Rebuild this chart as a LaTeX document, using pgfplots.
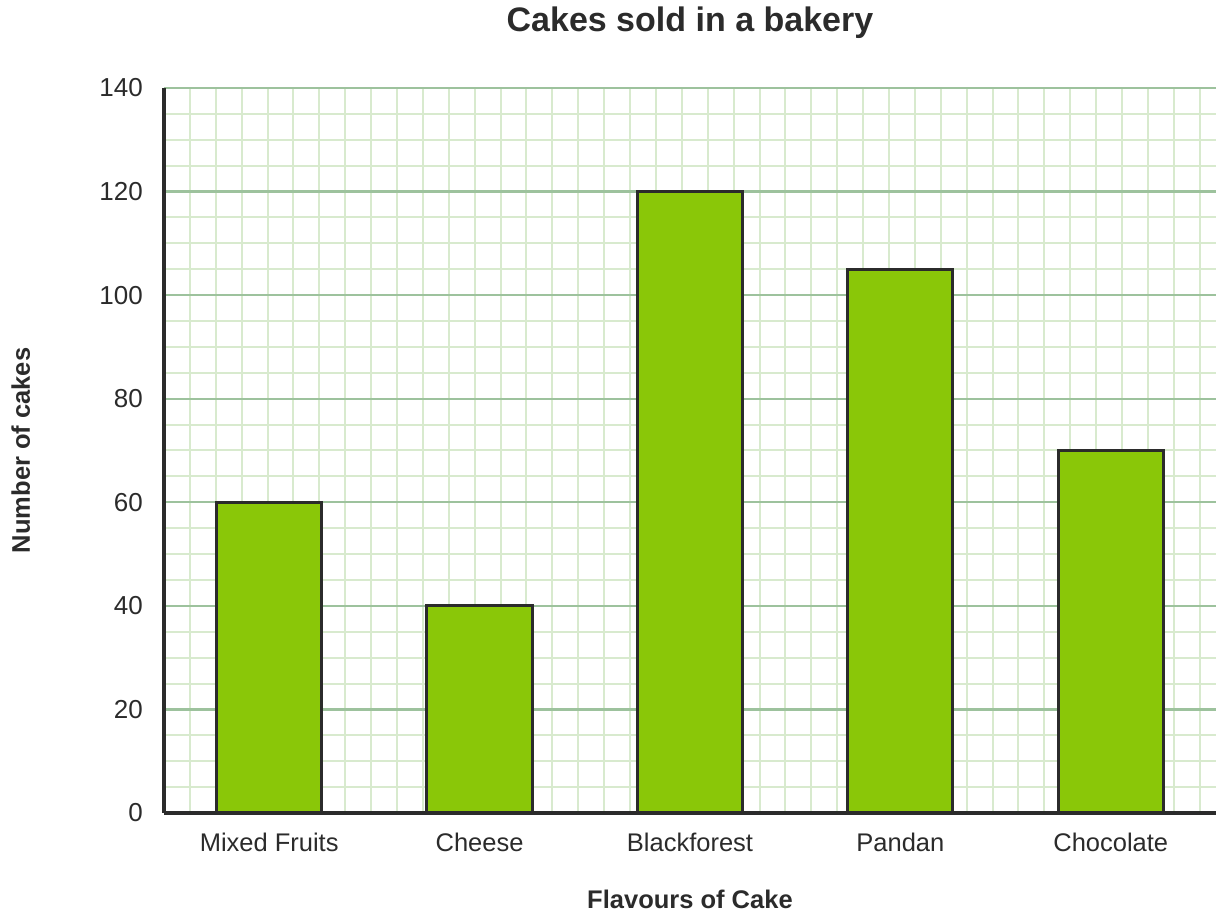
\documentclass[border=0pt]{standalone}
\usepackage{pgfplots}
\pgfplotsset{compat=1.18}
\usepackage{fontspec}
\setmainfont{Liberation Sans}
\definecolor{barfill}{HTML}{8AC708}
\definecolor{edge}{HTML}{2B2B2B}
\definecolor{majgrid}{HTML}{9DC29D}
\definecolor{mingrid}{HTML}{D8EACE}
\definecolor{txt}{HTML}{2B2B2B}
\begin{document}
\begin{tikzpicture}
\useasboundingbox (0,0) rectangle (1224pt,917pt);
\begin{axis}[
  at={(164pt,104pt)}, anchor=south west,
  scale only axis, width=1052pt, height=725pt,
  xmin=-0.5, xmax=4.5, ymin=0, ymax=140,
  axis x line=bottom, axis y line=left,
  axis line style={-, draw=edge, line width=4pt},
  xtick={0,1,2,3,4},
  xticklabels={Mixed Fruits,Cheese,Blackforest,Pandan,Chocolate},
  ytick={0,20,...,140},
  minor ytick={5,10,15,25,30,35,45,50,55,65,70,75,85,90,95,105,110,115,125,130,135},
  minor xtick={-0.37693,-0.25386,...,4.45},
  major tick length=0pt, minor tick length=0pt,
  tick style={draw=none},
  xmajorgrids=false, ymajorgrids=true, xminorgrids=true, yminorgrids=true,
  major grid style={draw=majgrid, line width=2.2pt},
  minor grid style={draw=mingrid, line width=2pt},
  ticklabel style={font=\fontsize{26}{30}\selectfont, text=txt},
  yticklabel style={anchor=east, inner sep=0pt, xshift=-21pt},
  xticklabel style={anchor=base, inner sep=0pt, yshift=-39pt, font=\fontsize{25.5}{30}\selectfont},
  /pgf/number format/assume math mode=true,
  title={Cakes sold in a bakery},
  title style={at={(axis description cs:0.5,1.0703)}, anchor=base, inner sep=0pt,
    font=\fontsize{34}{40}\selectfont\bfseries, text=txt},
  xlabel={Flavours of Cake},
  xlabel style={at={(axis description cs:0.5,-0.1324)}, anchor=base, inner sep=0pt,
    font=\fontsize{25.5}{30}\selectfont\bfseries, text=txt},
  ylabel={Number of cakes},
  ylabel style={at={(axis description cs:-0.1274,0.5)}, anchor=base, rotate=0, inner sep=0pt,
    font=\fontsize{25.5}{30}\selectfont\bfseries, text=txt},
]
\addplot[ybar, bar width=105.2pt, fill=barfill, draw=edge, line width=3pt]
  coordinates {(0,60) (1,40) (2,120) (3,105) (4,70)};
\end{axis}
\end{tikzpicture}
\end{document}
